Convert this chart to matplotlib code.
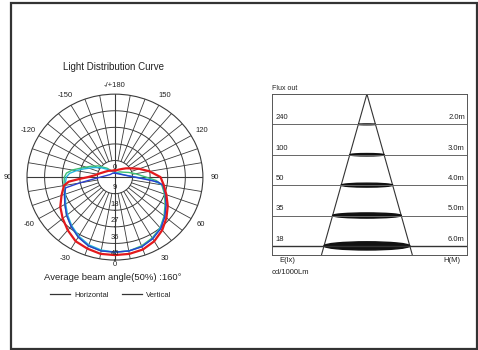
import numpy as np
import matplotlib
matplotlib.use("Agg")
import matplotlib.pyplot as plt
from matplotlib.lines import Line2D
from matplotlib.patches import Rectangle, Ellipse, Polygon

plt.rcParams["font.family"] = ["Liberation Sans", "DejaVu Sans"]

# polar curves, angle in degrees (0 = straight down), value in cd/1000lm
red_ang = [-180, -165, -150, -135, -120, -105, -95, -90, -87, -84, -80, -70, -60, -50, -40, -30, -20, -10,
           0, 10, 20, 30, 40, 50, 60, 70, 80, 90, 100, 110, 120, 130, 140, 150, 160, 170, 180]
red_val = [3.7, 3.7, 4.0, 4.8, 5.8, 7.9, 10.6, 13.8, 18.0, 23.8, 26.5, 29.1, 32.3, 34.9, 37.6, 40.2, 41.3, 42.3,
           42.3, 42.3, 41.8, 40.2, 37.6, 34.4, 31.2, 28.0, 25.4, 23.3, 18.0, 13.2, 9.5, 7.4, 5.8, 4.8, 4.2, 3.7, 3.7]

blue_ang = [-180, -150, -120, -100, -90, -85, -80, -77, -70, -60, -50, -40, -30, -20, -10,
            0, 10, 20, 30, 40, 50, 60, 70, 80, 83, 85, 90, 100, 120, 150, 180]
blue_val = [2.1, 2.4, 2.8, 4.6, 7.4, 10.6, 18.5, 25.9, 27.5, 29.6, 32.3, 34.9, 37.6, 39.7, 40.7,
            40.7, 40.7, 40.2, 38.6, 36.5, 33.3, 30.2, 27.5, 24.9, 22.2, 16.9, 10.1, 5.5, 3.1, 2.2, 2.1]

green_ang = [-180, -160, -140, -125, -115, -105, -100, -95, -90, -80, -70, -60, -50, -40, -30, -20, -10,
             0, 10, 20, 30, 40, 50, 60, 70, 80, 85, 90, 100, 110, 120, 140, 160, 180]
green_val = [2.6, 3.2, 6.3, 10.6, 13.8, 18.5, 22.2, 24.9, 25.9, 26.5, 27.5, 29.6, 32.3, 34.9, 37.6, 39.7, 40.7,
             40.7, 40.7, 39.7, 38.1, 36.0, 32.8, 29.6, 27.0, 24.3, 21.2, 15.9, 10.6, 7.4, 5.3, 3.7, 2.6, 2.6]

cyan_ang = [-180, -160, -140, -125, -115, -105, -100, -95, -90, -80, -70, -60, -50, -40, -30, -20, -10,
            0, 10, 20, 30, 40, 50, 60, 70, 80, 85, 90, 100, 120, 150, 180]
cyan_val = [2.6, 3.2, 5.3, 9.0, 12.2, 16.9, 20.1, 23.3, 24.9, 25.9, 27.0, 29.1, 31.7, 34.4, 37.0, 39.1, 40.2,
            40.7, 40.7, 40.2, 38.6, 36.0, 33.3, 30.2, 27.5, 24.9, 19.0, 10.6, 5.8, 3.4, 2.6, 2.6]

ring_vals = [9, 18, 27, 36, 45]
angle_ticks = [180, 150, 120, 90, 60, 30, 0, -30, -60, -90, -120, -150]
angle_labels = ["-/+180", "150", "120", "90", "60", "30", "0", "-30", "-60", "90", "-120", "-150"]

# flux table
heights = [2.0, 3.0, 4.0, 5.0, 6.0]
lux = [240, 100, 50, 35, 18]
spot_dia = [0.56, 1.12, 1.69, 2.25, 2.81]
spot_thick = [0.03, 0.08, 0.13, 0.17, 0.27]

grid_c = "#3a3a3a"
txt_c = "#222222"

fig = plt.figure(figsize=(4.78, 3.5), dpi=100)

# ---- polar plot ----
ax = fig.add_axes([0.0565, 0.257, 0.368, 0.474], projection="polar")
ax.set_theta_zero_location("S")
ax.set_theta_direction(1)
ax.set_ylim(0, 45)
ax.set_aspect("auto")
ax.grid(False)
ax.set_xticks([])
ax.set_yticks([])
ax.spines["polar"].set_color(grid_c)
ax.spines["polar"].set_linewidth(0.8)

full = np.linspace(0, 2 * np.pi, 361)
for r in ring_vals[:-1]:
    ax.plot(full, np.full_like(full, r), color=grid_c, lw=0.7)
for a in range(0, 360, 10):
    t = np.deg2rad(a)
    if a % 90 == 0:
        ax.plot([t, t], [0, 45], color=grid_c, lw=0.8)
    else:
        ax.plot([t, t], [9, 45], color=grid_c, lw=0.6)

ax.plot(np.deg2rad(green_ang), green_val, color="#3cbf74", lw=1.0)
ax.plot(np.deg2rad(cyan_ang), cyan_val, color="#22b6dc", lw=1.0)
ax.plot(np.deg2rad(blue_ang), blue_val, color="#2b3fcc", lw=1.0)
ax.plot(np.deg2rad(red_ang), red_val, color="#e3191c", lw=1.6)

for a, lab in zip(angle_ticks, angle_labels):
    r = 51
    if a == 180:
        r = 49.5
    elif a == 0:
        r = 47.5
    elif a == -90:
        r = 55
    ax.text(np.deg2rad(a), r, lab, ha="center", va="center", fontsize=5.5, color=txt_c)

ax.text(np.pi, 5, "0", ha="center", va="center", fontsize=5.5, color=txt_c)
for v in ring_vals:
    ax.text(0, v - 3.4, str(v), ha="center", va="center", fontsize=5.5, color=txt_c)

fig.text(0.238, 1 - 67 / 350, "Light Distribution Curve", ha="center", va="center",
         fontsize=7, color=txt_c)
fig.text(0.235, 1 - 277 / 350, "Average beam angle(50%) :160°", ha="center", va="center",
         fontsize=6.8, color=txt_c)

handles = [Line2D([], [], color="#333333", lw=0.9), Line2D([], [], color="#333333", lw=0.9)]
fig.legend(handles, ["Horizontal", "Vertical"], loc="center", bbox_to_anchor=(0.232, 1 - 295 / 350),
           ncol=2, frameon=False, fontsize=5.5, handlelength=2.6, columnspacing=1.8,
           handletextpad=0.5, labelcolor=txt_c)

# ---- flux chart ----
bx = fig.add_axes([272 / 478, 95 / 350, 195 / 478, 161 / 350])
bx.set_xlim(-3.11, 3.28)
bx.set_ylim(6.3, 1.0)
bx.set_xticks([])
bx.set_yticks([])
for s in bx.spines.values():
    s.set_color("#555555")
    s.set_linewidth(0.7)

half_base = spot_dia[-1] / 2 * (6.3 - 1.0) / (heights[-1] - 1.0)
bx.add_patch(Polygon([[-half_base, 6.3], [0, 1.0], [half_base, 6.3]], closed=False,
                     fill=False, edgecolor="#333333", lw=0.8))
for i, (h, e) in enumerate(zip(heights, lux)):
    last = i == len(heights) - 1
    bx.axhline(h, color="#333333" if last else "#666666", lw=1.0 if last else 0.7)
    bx.add_patch(Ellipse((0, h), spot_dia[i], spot_thick[i], color="#111111"))
    bx.text(-3.0, h - 0.1, str(e), ha="left", va="bottom", fontsize=5.5, color=txt_c)
    bx.text(3.21, h - 0.1, f"{h:.1f}m", ha="right", va="bottom", fontsize=5.5, color=txt_c)

bx.text(0.0, 1.01, "Flux out", transform=bx.transAxes, ha="left", va="bottom", fontsize=5, color=txt_c)
bx.text(0.04, -0.015, "E(lx)", transform=bx.transAxes, ha="left", va="top", fontsize=5.5, color=txt_c)
bx.text(0.965, -0.015, "H(M)", transform=bx.transAxes, ha="right", va="top", fontsize=5.5, color=txt_c)
bx.text(0.0, -0.085, "cd/1000Lm", transform=bx.transAxes, ha="left", va="top", fontsize=5.5, color=txt_c)

# outer frame
fig.add_artist(Rectangle((11 / 478, 1 / 350), 466 / 478, 346 / 350, transform=fig.transFigure,
                         fill=False, edgecolor="#333333", lw=1.6))

fig.savefig("out.png", dpi=100)
